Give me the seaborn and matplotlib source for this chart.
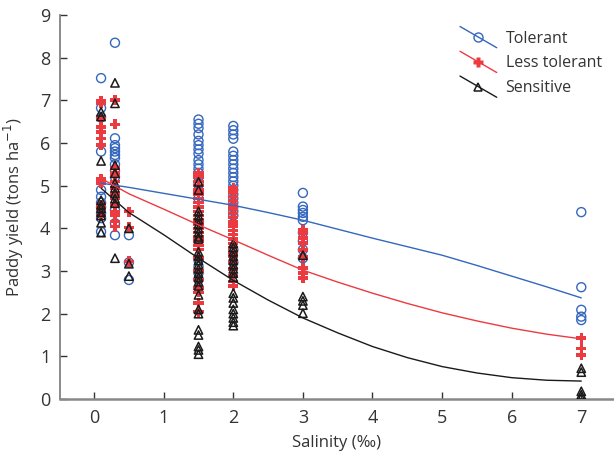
import pandas as pd
import matplotlib
matplotlib.use("Agg")
import matplotlib.pyplot as plt
import seaborn as sns
from matplotlib.lines import Line2D
from matplotlib.legend_handler import HandlerLine2D

# === DATA ===
tol_x = ([0.1] * 11 + [0.3] * 13 + [0.5] * 3 + [1.5] * 20 + [2] * 22 + [3] * 10 + [7] * 5)
tol_y = [7.52, 6.82, 6.6, 5.8, 4.9, 4.74, 4.6, 4.5, 4.36, 4.24, 3.92,
         8.35, 6.11, 5.95, 5.88, 5.8, 5.72, 5.65, 5.5, 5.35, 5.2, 4.43, 4.12, 3.84,
         3.84, 3.2, 2.79,
         6.55, 6.45, 6.35, 6.2, 6.05, 5.95, 5.85, 5.75, 5.6, 5.5, 5.4, 5.3, 5.2, 5.05,
         4.9, 4.7, 3.25, 3.1, 2.95, 2.8,
         6.4, 6.3, 6.2, 6.1, 5.8, 5.7, 5.6, 5.5, 5.4, 5.3, 5.2, 5.1, 5.0, 4.9, 4.8,
         4.7, 4.6, 4.5, 4.4, 4.3, 3.5, 3.2,
         4.83, 4.51, 4.43, 4.36, 4.27, 4.19, 3.9, 3.7, 3.5, 3.3,
         4.38, 2.62, 2.09, 1.93, 1.85]

less_x = ([0.1] * 12 + [0.3] * 14 + [0.5] * 3 + [1.5] * 27 + [2] * 22 + [3] * 9 + [7] * 3)
less_y = [6.99, 6.93, 6.56, 6.38, 6.26, 6.11, 5.95, 5.16, 5.06, 4.55, 4.45, 4.3,
          7.01, 6.44, 5.41, 5.3, 5.21, 5.1, 4.95, 4.8, 4.7, 4.55, 4.39, 4.31, 4.16, 4.04,
          4.39, 4.02, 3.22,
          5.3, 5.25, 5.2, 5.1, 5.0, 4.9, 4.8, 4.7, 4.6, 4.5, 4.4, 4.3, 4.2, 4.1, 4.0,
          3.9, 3.8, 3.7, 3.6, 3.5, 3.3, 3.0, 2.8, 2.6, 2.5, 2.25, 2.05,
          4.95, 4.85, 4.75, 4.65, 4.55, 4.45, 4.35, 4.25, 4.15, 4.05, 3.95, 3.85,
          3.75, 3.65, 3.55, 3.45, 3.35, 3.2, 3.05, 2.9, 2.75, 2.65,
          3.96, 3.89, 3.77, 3.66, 3.49, 3.33, 3.07, 2.95, 2.84,
          1.43, 1.19, 1.03]

sens_x = ([0.1] * 10 + [0.3] * 10 + [0.5] * 3 + [1.5] * 27 + [2] * 17 + [3] * 5 + [7] * 5)
sens_y = [6.73, 6.62, 5.58, 4.66, 4.55, 4.47, 4.38, 4.3, 4.13, 3.9,
          7.41, 6.93, 5.48, 5.29, 5.06, 4.95, 4.83, 4.7, 4.59, 3.3,
          4.0, 3.17, 2.88,
          5.09, 4.9, 4.4, 4.3, 4.2, 4.1, 4.0, 3.9, 3.8, 3.75, 3.45, 3.35, 3.25, 3.15,
          3.05, 2.95, 2.85, 2.75, 2.65, 2.44, 2.1, 2.0, 1.62, 1.5, 1.23, 1.15, 1.05,
          3.65, 3.55, 3.45, 3.35, 3.25, 3.15, 3.05, 2.95, 2.85, 2.48, 2.37, 2.25,
          2.1, 2.0, 1.9, 1.8, 1.72,
          3.37, 2.4, 2.3, 2.2, 2.01,
          0.72, 0.63, 0.18, 0.1, 0.03]

# fitted curves, read at salinity values along each line
fit_x = [0.1, 0.5, 1, 1.5, 2, 2.5, 3, 3.5, 4, 4.5, 5, 5.5, 6, 6.5, 7]
fit_tol = [5.06, 4.96, 4.82, 4.68, 4.54, 4.37, 4.19, 3.98, 3.77, 3.57,
           3.37, 3.13, 2.88, 2.63, 2.37]
fit_less = [5.17, 4.81, 4.45, 4.08, 3.73, 3.37, 3.02, 2.74, 2.48, 2.24,
            2.02, 1.83, 1.66, 1.52, 1.41]
fit_sens = [4.94, 4.37, 3.85, 3.30, 2.78, 2.32, 1.90, 1.55, 1.23, 0.97,
            0.76, 0.61, 0.50, 0.44, 0.42]

labels = ["Tolerant", "Less tolerant", "Sensitive"]
x_ticks = [0, 1, 2, 3, 4, 5, 6, 7]
y_ticks = [0, 1, 2, 3, 4, 5, 6, 7, 8, 9]

# === STYLE ===
sns.set_style("ticks")
plt.rcParams["font.family"] = ["Open Sans", "DejaVu Sans"]
plt.rcParams["text.color"] = "#333333"
plt.rcParams["axes.labelcolor"] = "#333333"
plt.rcParams["xtick.color"] = "#333333"
plt.rcParams["ytick.color"] = "#333333"

BLUE = "#3467bd"
RED = "#ec3a41"
BLACK = "#1a1a1a"

fig = plt.figure(figsize=(6.14, 4.54), dpi=100)
ax = fig.add_axes([60 / 614, 55 / 454, 554 / 614, 384 / 454])

sns.scatterplot(x=tol_x, y=tol_y, ax=ax, marker="o", s=42,
                facecolor="none", edgecolor=BLUE, linewidth=1.0, zorder=2)
sns.scatterplot(x=less_x, y=less_y, ax=ax, marker="P", s=55,
                color=RED, edgecolor="none", linewidth=0, zorder=3)
sns.scatterplot(x=sens_x, y=sens_y, ax=ax, marker="^", s=36,
                facecolor="none", edgecolor=BLACK, linewidth=1.1, zorder=4)

fits = pd.DataFrame({"x": fit_x, "tol": fit_tol, "less": fit_less, "sens": fit_sens})
sns.lineplot(data=fits, x="x", y="tol", ax=ax, color=BLUE, lw=1.0, zorder=5)
sns.lineplot(data=fits, x="x", y="less", ax=ax, color=RED, lw=1.0, zorder=5)
sns.lineplot(data=fits, x="x", y="sens", ax=ax, color=BLACK, lw=1.0, zorder=5)

ax.set_xlim(-0.49, 7.47)
ax.set_ylim(0, 9)
ax.set_xticks(x_ticks)
ax.set_yticks(y_ticks)
ax.tick_params(direction="in", length=5, width=1, labelsize=13, pad=7)
ax.set_xlabel("Salinity (‰)", fontsize=12, labelpad=6)
ax.set_ylabel("Paddy yield (tons ha$^{-1}$)", fontsize=12, labelpad=10)
sns.despine(ax=ax)
ax.spines["left"].set_color("#777777")
ax.spines["bottom"].set_color("#888888")
ax.spines["left"].set_linewidth(1.2)
ax.spines["bottom"].set_linewidth(1.8)


# legend with slanted lines through the marker
class SlantHandler(HandlerLine2D):
    def create_artists(self, legend, orig_handle, xdescent, ydescent,
                       width, height, fontsize, trans):
        x0, x1 = -xdescent, width - xdescent
        y0, y1 = height * 1.45 - ydescent, -height * 0.45 - ydescent
        line = Line2D([x0, x1], [y0, y1])
        self.update_prop(line, orig_handle, legend)
        line.set_marker("None")
        mk = Line2D([(x0 + x1) / 2], [(y0 + y1) / 2])
        self.update_prop(mk, orig_handle, legend)
        mk.set_linestyle("None")
        line.set_transform(trans)
        mk.set_transform(trans)
        return [line, mk]


handles = [
    Line2D([], [], color=BLUE, lw=1.0, marker="o", ms=6.5, mfc="none", mec=BLUE, mew=1.0),
    Line2D([], [], color=RED, lw=1.0, marker="P", ms=7.5, mfc=RED, mec="none"),
    Line2D([], [], color=BLACK, lw=1.0, marker="^", ms=6, mfc="none", mec=BLACK, mew=1.1),
]
ax.legend(handles, labels, loc="upper left", bbox_to_anchor=(452 / 614, 0.95),
          bbox_transform=fig.transFigure, frameon=False, fontsize=11.5,
          handlelength=2.3, handletextpad=0.55, labelspacing=0.55, borderpad=0,
          handler_map={Line2D: SlantHandler()})

fig.savefig("out.png", dpi=100)
